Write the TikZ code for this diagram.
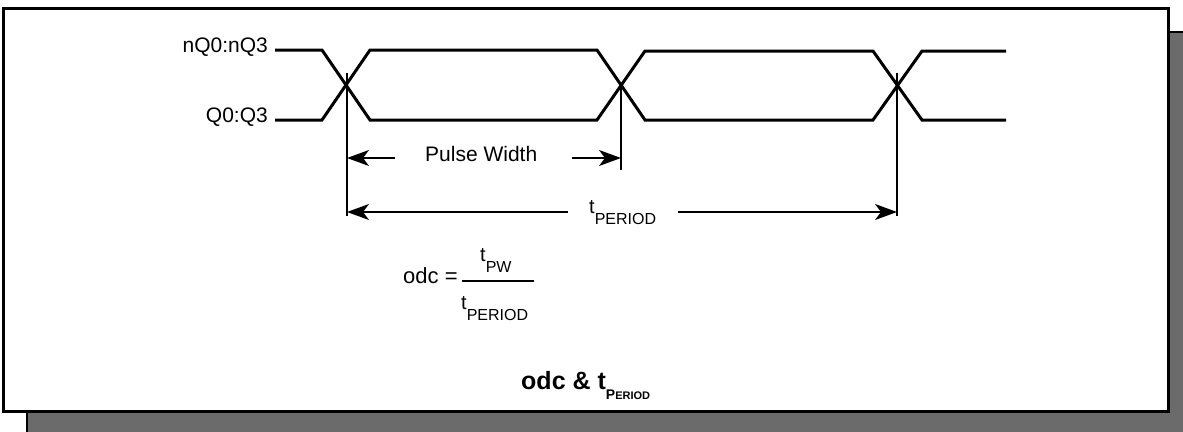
\documentclass[tikz,border=0pt]{standalone}
\usepackage{fontspec}
\setmainfont{Liberation Sans}
\usetikzlibrary{arrows.meta}
\definecolor{shadowgray}{HTML}{6B6B6B}
\begin{document}
\begin{tikzpicture}[x=1pt,y=-1pt,
  sig/.style={line width=3pt, line join=miter},
  guide/.style={line width=1.3pt},
  dimarrow/.style={line width=1.3pt, -{Stealth[length=22pt,width=16pt,inset=6pt]}},
  lbl/.style={inner sep=0pt, font=\fontsize{21}{25}\selectfont},
  small/.style={inner sep=0pt, font=\fontsize{20}{24}\selectfont},
]
\useasboundingbox (0,0) rectangle (1183,431);
% frame with shadow
\draw[fill=shadowgray, line width=2.5pt] (27,32) rectangle (1200,450);
\draw[fill=white, line width=3pt] (3,8) rectangle (1168,411);

% signal points
\coordinate (a0) at (275,50);  \coordinate (a1) at (322,50);
\coordinate (a2) at (370,120); \coordinate (a3) at (597,120);
\coordinate (a4) at (645,51);  \coordinate (a5) at (873,51);
\coordinate (a6) at (922,120); \coordinate (a7) at (1006,120);
\coordinate (b0) at (275,120); \coordinate (b1) at (322,120);
\coordinate (b2) at (370,50);  \coordinate (b3) at (597,50);
\coordinate (b4) at (645,120); \coordinate (b5) at (873,120);
\coordinate (b6) at (922,51);  \coordinate (b7) at (1006,51);

\draw[sig] (a0) -- (a1) -- (a2) -- (a3) -- (a4) -- (a5) -- (a6) -- (a7);
\draw[sig] (b0) -- (b1) -- (b2) -- (b3) -- (b4) -- (b5) -- (b6) -- (b7);

\node[lbl, anchor=base east] (nq) at (268,52) {nQ0:nQ3};
\node[lbl, anchor=base east] (q) at (268,122) {Q0:Q3};

% guide lines
\coordinate (v1t) at (347,73);  \coordinate (v1b) at (347,216);
\coordinate (v2t) at (621,83);  \coordinate (v2b) at (621,170);
\coordinate (v3t) at (897,73);  \coordinate (v3b) at (897,216);
\draw[guide] (v1t) -- (v1b);
\draw[guide] (v2t) -- (v2b);
\draw[guide] (v3t) -- (v3b);

% pulse width
\coordinate (pwl) at (347,158); \coordinate (pwr) at (621,158);
\node[lbl, anchor=base west] (pw) at (425,161) {Pulse Width};
\coordinate (pwls) at (395,158); \coordinate (pwrs) at (572,158);
\draw[dimarrow] (pwls) -- (pwl);
\draw[dimarrow] (pwrs) -- (pwr);

% period
\coordinate (pl) at (347,212); \coordinate (pr) at (897,212);
\coordinate (pls) at (568,212); \coordinate (prs) at (678,212);
\node[small, anchor=base west] (tp) at (589,213) {t\raisebox{-11pt}{\fontsize{16}{16}\selectfont PERIOD}};
\draw[dimarrow] (pls) -- (pl);
\draw[dimarrow] (prs) -- (pr);

% formula
\node[inner sep=0pt, anchor=base west, font=\fontsize{22}{26}\selectfont] (odc) at (403,283) {odc =};
\coordinate (fl) at (462,281); \coordinate (fr) at (534,281);
\draw[line width=1.5pt] (fl) -- (fr);
\node[small, anchor=base west] (num) at (480,261) {t\raisebox{-11pt}{\fontsize{16}{16}\selectfont PW}};
\node[small, anchor=base west] (den) at (461,309) {t\raisebox{-11pt}{\fontsize{16}{16}\selectfont PERIOD}};

% title
\node[inner sep=0pt, anchor=base west, font=\bfseries\fontsize{25}{28}\selectfont] (title) at (521,389)
  {odc \& t\raisebox{-10pt}{\fontsize{14}{14}\selectfont P\fontsize{11}{11}\selectfont ERIOD}};
\end{tikzpicture}
\end{document}
